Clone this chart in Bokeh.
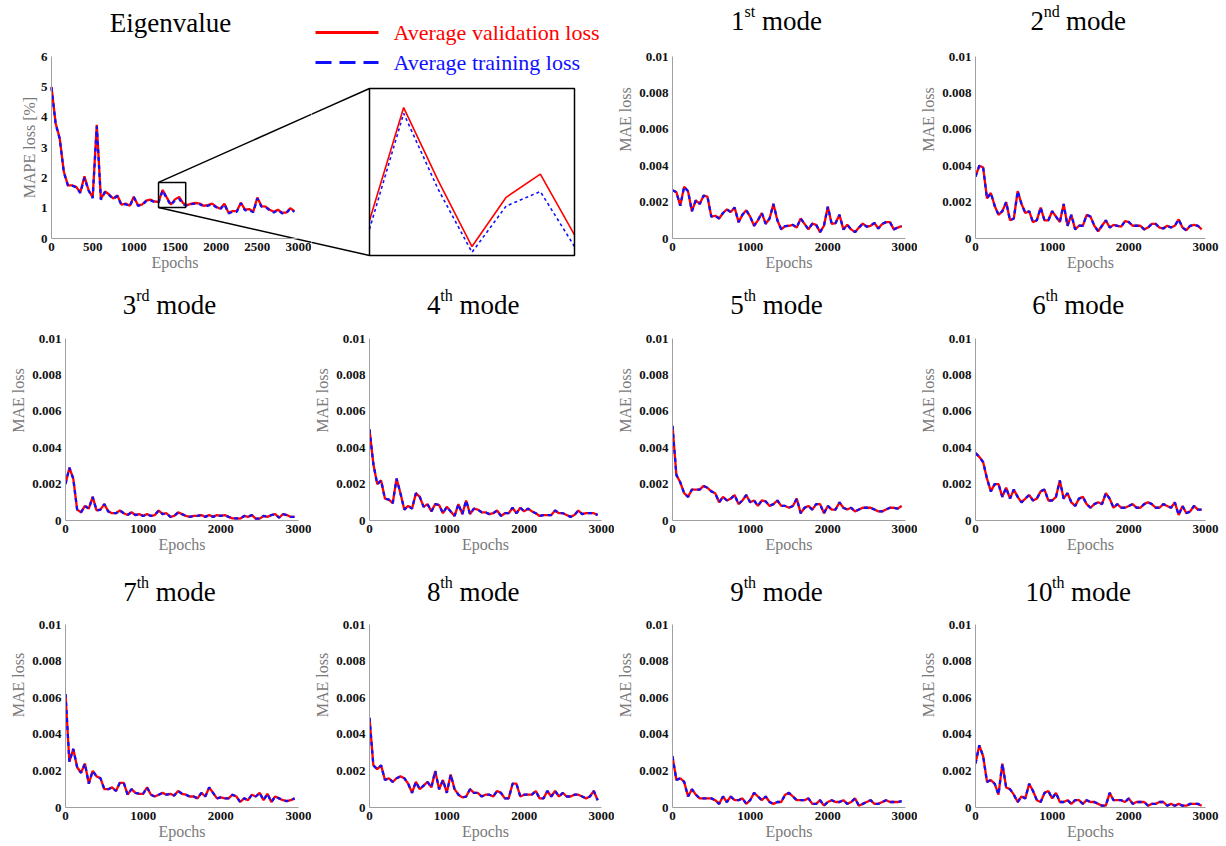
from bokeh.plotting import figure
from bokeh.layouts import row, column
from bokeh.models import Range1d, FixedTicker, Label, BoxAnnotation
from bokeh.embed import file_html
from bokeh.resources import INLINE

# ---------------- data ----------------
epochs = list(range(0, 3000, 50))

eig_val = [5.0, 3.8, 3.3, 2.2, 1.75, 1.75, 1.7, 1.52, 2.05, 1.6,
           1.35, 3.75, 1.3, 1.55, 1.45, 1.32, 1.42, 1.12, 1.15, 1.08,
           1.38, 1.1, 1.12, 1.25, 1.28, 1.22, 1.21, 1.6, 1.35, 1.12,
           1.29, 1.37, 1.16, 1.1, 1.15, 1.17, 1.15, 1.08, 1.1, 1.15,
           1.05, 0.98, 1.15, 0.85, 0.9, 0.9, 1.18, 0.95, 0.97, 0.88,
           1.35, 1.07, 1.05, 0.95, 0.88, 0.95, 0.85, 0.85, 1.0, 0.9]
eig_train = [4.98, 3.78, 3.28, 2.18, 1.74, 1.74, 1.69, 1.5, 2.0, 1.58,
             1.33, 3.7, 1.28, 1.53, 1.43, 1.3, 1.4, 1.1, 1.13, 1.06,
             1.36, 1.08, 1.1, 1.23, 1.26, 1.2, 1.18, 1.58, 1.32, 1.10,
             1.26, 1.31, 1.12, 1.08, 1.13, 1.15, 1.13, 1.06, 1.08, 1.13,
             1.03, 0.96, 1.13, 0.83, 0.88, 0.88, 1.16, 0.93, 0.95, 0.86,
             1.32, 1.05, 1.03, 0.93, 0.86, 0.93, 0.83, 0.83, 0.98, 0.88]

mode1 = [0.00265, 0.00255, 0.0018, 0.00285, 0.0026, 0.0015, 0.0021, 0.0019, 0.00235, 0.0023,
         0.0012, 0.00125, 0.0011, 0.0014, 0.0016, 0.00145, 0.0017, 0.0009, 0.0013, 0.00155,
         0.0012, 0.0007, 0.001, 0.0014, 0.0008, 0.0011, 0.0019, 0.001, 0.0005, 0.00068,
         0.0007, 0.00075, 0.0006, 0.0011, 0.0008, 0.0005, 0.00082, 0.00075, 0.00035, 0.0007,
         0.00175, 0.0008, 0.00085, 0.0013, 0.0005, 0.00075, 0.0005, 0.00035, 0.0006, 0.00082,
         0.00065, 0.0007, 0.00085, 0.00055, 0.0008, 0.0009, 0.0009, 0.0005, 0.0006, 0.00068]
mode2 = [0.0034, 0.004, 0.0039, 0.0022, 0.0025, 0.0018, 0.0013, 0.0015, 0.002, 0.001,
         0.0011, 0.0026, 0.0019, 0.0014, 0.0015, 0.0009, 0.001, 0.0017, 0.001, 0.001,
         0.0015, 0.0012, 0.0009, 0.0019, 0.0007, 0.0013, 0.0005, 0.0007, 0.0007, 0.0013,
         0.0012, 0.0007, 0.0004, 0.0007, 0.001, 0.0006, 0.00075, 0.0007, 0.00065, 0.00095,
         0.0009, 0.0007, 0.0007, 0.0007, 0.0005, 0.0006, 0.0008, 0.0008, 0.0006, 0.00055,
         0.0007, 0.0006, 0.0007, 0.00105, 0.0006, 0.00045, 0.0007, 0.00075, 0.0007, 0.0005]
mode3 = [0.002, 0.0029, 0.0023, 0.0006, 0.00045, 0.0008, 0.00065, 0.0013, 0.00055, 0.0006,
         0.0009, 0.0005, 0.0004, 0.0004, 0.00055, 0.0004, 0.0003, 0.00045, 0.0003, 0.00035,
         0.00025, 0.00035, 0.00025, 0.0003, 0.00055, 0.00035, 0.0004, 0.0002, 0.00025, 0.00045,
         0.00035, 0.00025, 0.0002, 0.00025, 0.00025, 0.0003, 0.0002, 0.0003, 0.0002, 0.0003,
         0.00025, 0.0003, 0.0002, 0.00012, 0.00012, 0.0001, 0.00025, 0.0002, 0.0003, 0.0001,
         0.0001, 0.00025, 0.0002, 0.0003, 0.00035, 0.00015, 0.00035, 0.0003, 0.0002, 0.0002]
mode4 = [0.005, 0.0031, 0.002, 0.0022, 0.0012, 0.00115, 0.00095, 0.0023, 0.0015, 0.0006,
         0.0008, 0.00065, 0.0015, 0.0013, 0.00075, 0.0009, 0.0005, 0.0009, 0.00085, 0.0004,
         0.00075, 0.0005, 0.00025, 0.0009, 0.00035, 0.0011, 0.00035, 0.00065, 0.0006, 0.00045,
         0.00045, 0.00035, 0.0004, 0.00055, 0.00025, 0.0004, 0.0004, 0.0007, 0.0004, 0.0007,
         0.0005, 0.00065, 0.0005, 0.0004, 0.00025, 0.0003, 0.0003, 0.0003, 0.00055, 0.0004,
         0.0004, 0.0003, 0.0002, 0.0003, 0.00055, 0.00035, 0.0004, 0.0004, 0.0004, 0.0003]
mode5 = [0.0052, 0.0025, 0.0021, 0.0015, 0.0013, 0.0017, 0.0017, 0.0017, 0.0019, 0.0018,
         0.0016, 0.0015, 0.001, 0.0013, 0.0011, 0.0012, 0.0014, 0.0009, 0.0011, 0.0014,
         0.001, 0.0011, 0.0008, 0.0011, 0.00105, 0.0008, 0.0009, 0.0011, 0.0008, 0.0008,
         0.0007, 0.0008, 0.0012, 0.0004, 0.0007, 0.0008, 0.0006, 0.0009, 0.0009, 0.0004,
         0.0008, 0.0006, 0.0006, 0.001, 0.0007, 0.0006, 0.0007, 0.0005, 0.0006, 0.0007,
         0.0007, 0.0007, 0.0006, 0.0005, 0.0005, 0.0006, 0.0007, 0.0007, 0.00065, 0.0008]
mode6 = [0.0037, 0.0035, 0.0032, 0.0023, 0.0016, 0.002, 0.002, 0.0013, 0.0018, 0.0012,
         0.0017, 0.0013, 0.001, 0.0012, 0.0014, 0.0011, 0.0012, 0.0016, 0.0017, 0.0011,
         0.0011, 0.0013, 0.0022, 0.0012, 0.0015, 0.001, 0.0008, 0.0012, 0.0013, 0.0009,
         0.0007, 0.0009, 0.001, 0.0009, 0.0015, 0.0012, 0.0007, 0.0009, 0.0007, 0.0007,
         0.0008, 0.0009, 0.0007, 0.0007, 0.0009, 0.001, 0.0009, 0.0007, 0.0007, 0.0009,
         0.0008, 0.0007, 0.001, 0.0003, 0.0008, 0.0004, 0.0005, 0.0008, 0.0006, 0.0006]
mode7 = [0.0062, 0.0025, 0.0032, 0.0022, 0.0019, 0.0024, 0.0013, 0.002, 0.0017, 0.0016,
         0.001, 0.001, 0.0011, 0.0009, 0.00135, 0.00135, 0.0007, 0.001, 0.0008, 0.00075,
         0.00075, 0.0011, 0.0007, 0.0006, 0.0007, 0.0008, 0.0007, 0.00075, 0.00065, 0.0009,
         0.00075, 0.0007, 0.0006, 0.0006, 0.0005, 0.0008, 0.0006, 0.0011, 0.0008, 0.0005,
         0.00055, 0.0005, 0.0005, 0.0007, 0.0006, 0.0003, 0.0005, 0.0004, 0.0007, 0.0006,
         0.0008, 0.0004, 0.00075, 0.0003, 0.0006, 0.0005, 0.0004, 0.00035, 0.0004, 0.0005]
mode8 = [0.0049, 0.0023, 0.0021, 0.0023, 0.0015, 0.0016, 0.0014, 0.0016, 0.0017, 0.0016,
         0.0013, 0.0008, 0.0014, 0.001, 0.0012, 0.0014, 0.0011, 0.002, 0.001, 0.0015,
         0.0008, 0.0018, 0.001, 0.0007, 0.00055, 0.0006, 0.001, 0.0008, 0.0008, 0.0006,
         0.0007, 0.0007, 0.0006, 0.0009, 0.0008, 0.0005, 0.0005, 0.0013, 0.0013, 0.0006,
         0.0007, 0.0007, 0.0007, 0.0009, 0.0005, 0.0005, 0.0009, 0.0006, 0.0009, 0.0006,
         0.0008, 0.0006, 0.0006, 0.0007, 0.0007, 0.0006, 0.0005, 0.0006, 0.0009, 0.0004]
mode9 = [0.0028, 0.0015, 0.0016, 0.0014, 0.0006, 0.001, 0.0007, 0.0005, 0.0005, 0.0005,
         0.0005, 0.0004, 0.0002, 0.0006, 0.0003, 0.0006, 0.0004, 0.0004, 0.0005, 0.0002,
         0.0004, 0.0008, 0.0006, 0.0004, 0.0006, 0.0003, 0.0002, 0.0003, 0.0003, 0.0007,
         0.0008, 0.0006, 0.0004, 0.0004, 0.0004, 0.0005, 0.0002, 0.0002, 0.0004, 0.0001,
         0.0003, 0.0004, 0.0003, 0.0003, 0.0004, 0.0002, 0.0003, 0.0005, 0.0001, 0.0002,
         0.0003, 0.0004, 0.0002, 0.0002, 0.0003, 0.0004, 0.0003, 0.0003, 0.0003, 0.00035]
mode10 = [0.0024, 0.0034, 0.0028, 0.0014, 0.0015, 0.0013, 0.0007, 0.0024, 0.0011, 0.001,
          0.0007, 0.0003, 0.0006, 0.0005, 0.0013, 0.0009, 0.0004, 0.0003, 0.0008, 0.0009,
          0.0005, 0.0008, 0.0003, 0.0003, 0.0004, 0.0002, 0.0004, 0.0004, 0.0002, 0.0004,
          0.0003, 0.0003, 0.0002, 0.0001, 0.0001, 0.0008, 0.0004, 0.0004, 0.0004, 0.0003,
          0.0005, 0.0002, 0.0003, 0.0003, 0.0003, 0.0001, 0.0002, 0.0002, 0.0003, 0.0003,
          0.0001, 0.0002, 0.0001, 0.0002, 0.0001, 0.0001, 0.0002, 0.0002, 0.0002, 0.0001]

mode_series = [mode1, mode2, mode3, mode4, mode5, mode6, mode7, mode8, mode9, mode10]
mode_numbers = ["1", "2", "3", "4", "5", "6", "7", "8", "9", "10"]
mode_suffixes = ["st", "nd", "rd", "th", "th", "th", "th", "th", "th", "th"]

eig_title = "Eigenvalue"
legend_labels = ["Average validation loss", "Average training loss"]
eig_ylabel = "MAPE loss [%]"
mode_ylabel = "MAE loss"
xlabel = "Epochs"

eig_xticks = [0, 500, 1000, 1500, 2000, 2500, 3000]
eig_yticks = [0, 1, 2, 3, 4, 5, 6]
mode_xticks = [0, 1000, 2000, 3000]
mode_yticks = [0, 0.002, 0.004, 0.006, 0.008, 0.01]
mode_ytick_labels = ["0", "0.002", "0.004", "0.006", "0.008", "0.01"]

# zoom window shown in the inset
zoom_x = [1300, 1600]
zoom_box_x = [1300, 1630]
zoom_box_y = [1.02, 1.85]
inset_y = [1.089, 1.666]

# ---------------- style ----------------
FONT = "Liberation Serif"
RED = "#ff0000"
BLUE = "#1010ff"
AXIS_GRAY = "#a0a0a0"
LABEL_GRAY = "#7a7a7a"

CW = {'0': .5, '1': .5, '2': .5, '3': .5, '4': .5, '5': .5, '6': .5, '7': .5, '8': .5, '9': .5,
      's': .389, 't': .278, 'n': .5, 'd': .5, 'r': .333, 'h': .5, ' ': .25,
      'm': .778, 'o': .5, 'e': .444}


def tw(s, size):
    return sum(CW[c] for c in s) * size


# ---------------- geometry (screen px) ----------------
COLS = [(0, 311), (311, 614), (614, 917), (917, 1224)]
FRAME_X = [(65, 298), (368, 601), (672, 905), (971, 1205)]
ROWS = [(0, 280), (280, 562), (562, 845)]
FRAME_Y = [(56, 238), (338, 520), (624, 807)]
TITLE_BASE = [36, 34, 33]

EL, ER = 51, 298                      # eigenvalue data x 0..3000
IL, IR, IT, IB = 369, 574, 88, 255    # inset box


class Map:
    def __init__(self, d0, d1, s0, s1):
        self.d0, self.d1, self.s0, self.s1 = d0, d1, s0, s1

    def d(self, s):
        return self.d0 + (s - self.s0) / (self.s1 - self.s0) * (self.d1 - self.d0)

    def s(self, d):
        return self.s0 + (d - self.d0) / (self.d1 - self.d0) * (self.s1 - self.s0)


def mk(canvas, frame, xm, ym, axes=True):
    cx0, cx1, cy0, cy1 = canvas
    fx0, fx1, fy0, fy1 = frame
    kw = {} if axes else dict(x_axis_location=None, y_axis_location=None)
    p = figure(width=cx1 - cx0, height=cy1 - cy0,
               min_border_left=fx0 - cx0, min_border_right=cx1 - fx1,
               min_border_top=fy0 - cy0, min_border_bottom=cy1 - fy1,
               x_range=Range1d(xm.d(fx0), xm.d(fx1)), y_range=Range1d(ym.d(fy1), ym.d(fy0)),
               output_backend="svg", toolbar_location=None, tools="", **kw)
    p.grid.visible = False
    p.outline_line_color = None
    p.background_fill_color = "white"
    p.border_fill_color = "white"
    return p


def style(p, xticks, yticks, xb, yb, ylabel, ylabels=None):
    p.xaxis.ticker = FixedTicker(ticks=xticks)
    p.yaxis.ticker = FixedTicker(ticks=yticks)
    p.xaxis.bounds = xb
    p.yaxis.bounds = yb
    if ylabels is not None:
        p.yaxis.major_label_overrides = {t: l for t, l in zip(yticks, ylabels)}
    p.xaxis.axis_label = xlabel
    p.yaxis.axis_label = ylabel
    for ax in list(p.xaxis) + list(p.yaxis):
        ax.axis_line_color = AXIS_GRAY
        ax.axis_line_width = 1
        ax.major_tick_in = 0
        ax.major_tick_out = 0
        ax.major_tick_line_color = None
        ax.minor_tick_line_color = None
        ax.major_label_text_font = FONT
        ax.major_label_text_font_style = "bold"
        ax.major_label_text_font_size = "13px"
        ax.major_label_text_color = "#111111"
        ax.axis_label_text_font = FONT
        ax.axis_label_text_font_style = "normal"
        ax.axis_label_text_font_size = "16px"
        ax.axis_label_text_color = LABEL_GRAY
    p.xaxis.major_label_standoff = 4
    p.xaxis.axis_label_standoff = 0
    p.yaxis.major_label_standoff = 4
    p.yaxis.axis_label_standoff = 2


def add_lines(p, xs, y_val, y_train, w=2.3, dash="4 4"):
    p.line(xs, y_val, line_color=RED, line_width=w)
    p.line(xs, y_train, line_color=BLUE, line_width=w, line_dash=dash)


def label(p, xm, ym, sx, sy, text, size, color="black", align="left", baseline="alphabetic"):
    p.add_layout(Label(x=xm.d(sx), y=ym.d(sy), text=text, text_font=FONT,
                       text_font_size=f"{size}px", text_color=color,
                       text_align=align, text_baseline=baseline))


def mode_fig(r, c, k):
    (cx0, cx1), (fx0, fx1) = COLS[c], FRAME_X[c]
    (ry0, ry1), (fy0, fy1) = ROWS[r], FRAME_Y[r]
    xm = Map(0, 3000, fx0, fx1)
    ym = Map(0, 0.01, fy1, fy0)
    p = mk((cx0, cx1, ry0, ry1), (fx0, fx1, ry0, fy1), xm, ym)
    style(p, mode_xticks, mode_yticks, (0, 3000), (0, 0.01), mode_ylabel, mode_ytick_labels)
    add_lines(p, epochs, mode_series[k], mode_series[k])
    # title with superscript ordinal
    F, S = 27, 16
    num, suf = mode_numbers[k], mode_suffixes[k]
    wn, ws, wm = tw(num, F), tw(suf, S), tw(" mode", F)
    x0 = fx0 + 104 - (wn + ws + wm) / 2
    base = fy0 - TITLE_BASE[r]
    label(p, xm, ym, x0, base, num, F)
    label(p, xm, ym, x0 + wn, base - 9, suf, S)
    label(p, xm, ym, x0 + wn + ws + tw(" ", F), base, "mode", F)
    return p


# ---- eigenvalue panel (axes pinned at 0 so the frame can fill the whole canvas) ----
ET, EB = FRAME_Y[0]
exm = Map(0, 3000, EL, ER)
eym = Map(0, 6, EB, ET)
pe = mk((COLS[0][0], COLS[0][1], ROWS[0][0], ROWS[0][1]),
        (COLS[0][0], COLS[0][1], ROWS[0][0], ROWS[0][1]), exm, eym)
style(pe, eig_xticks, eig_yticks, (0, 3000), (0, 6), eig_ylabel)
pe.xaxis.fixed_location = 0
pe.yaxis.fixed_location = 0
pe.yaxis.axis_label_standoff = 0
add_lines(pe, epochs, eig_val, eig_train)
label(pe, exm, eym, 170, ET - 34, eig_title, 27, align="center")
pe.add_layout(BoxAnnotation(left=zoom_box_x[0], right=zoom_box_x[1], bottom=zoom_box_y[0],
                            top=zoom_box_y[1], fill_color=None, fill_alpha=0,
                            line_color="black", line_alpha=1, line_width=1.5))

# ---- inset + legend panel ----
ixm = Map(zoom_x[0], zoom_x[1], IL, IR)
iym = Map(inset_y[0], inset_y[1], IB, IT)
pi = mk((COLS[1][0], COLS[1][1], ROWS[0][0], ROWS[0][1]),
        (COLS[1][0], COLS[1][1], ROWS[0][0], ROWS[0][1]), ixm, iym, axes=False)
sel = [i for i, e in enumerate(epochs) if zoom_x[0] <= e <= zoom_x[1]]
add_lines(pi, [epochs[i] for i in sel], [eig_val[i] for i in sel], [eig_train[i] for i in sel],
          w=1.6, dash="3 3")
pi.add_layout(BoxAnnotation(left=zoom_x[0], right=zoom_x[1], bottom=inset_y[0], top=inset_y[1],
                            fill_color=None, fill_alpha=0, line_color="black", line_alpha=1,
                            line_width=1.5))

# connector lines: zoom box left corners -> inset left corners
corners = [((zoom_box_x[0], zoom_box_y[1]), (IL, IT)), ((zoom_box_x[0], zoom_box_y[0]), (IL, IB))]
for (bx, by), (isx, isy) in corners:
    bsx, bsy = exm.s(bx), eym.s(by)
    pe.line([bx, exm.d(isx)], [by, eym.d(isy)], line_color="black", line_width=1.5)
    pi.line([ixm.d(bsx), ixm.d(isx)], [iym.d(bsy), iym.d(isy)], line_color="black", line_width=1.5)

# legend (keys + texts)
LEG_X0, LEG_X1, LEG_TX = 315, 378, 393
LEG_Y = [32, 62]
pi.line([ixm.d(LEG_X0), ixm.d(LEG_X1)], [iym.d(LEG_Y[0])] * 2, line_color=RED, line_width=3)
pi.line([ixm.d(LEG_X0), ixm.d(LEG_X1)], [iym.d(LEG_Y[1])] * 2, line_color=BLUE, line_width=3,
        line_dash="16 8")
label(pi, ixm, iym, LEG_TX, LEG_Y[0], legend_labels[0], 22, color=RED, baseline="middle")
label(pi, ixm, iym, LEG_TX, LEG_Y[1], legend_labels[1], 22, color=BLUE, baseline="middle")

m = [mode_fig(0, 2, 0), mode_fig(0, 3, 1)]
row2 = [mode_fig(1, c, 2 + c) for c in range(4)]
row3 = [mode_fig(2, c, 6 + c) for c in range(4)]

layout = column(row(column(pe, spacing=0), column(pi, spacing=0), m[0], m[1], spacing=0),
                row(*row2, spacing=0), row(*row3, spacing=0), spacing=0)

open("out.html", "w").write(file_html(layout, INLINE))
